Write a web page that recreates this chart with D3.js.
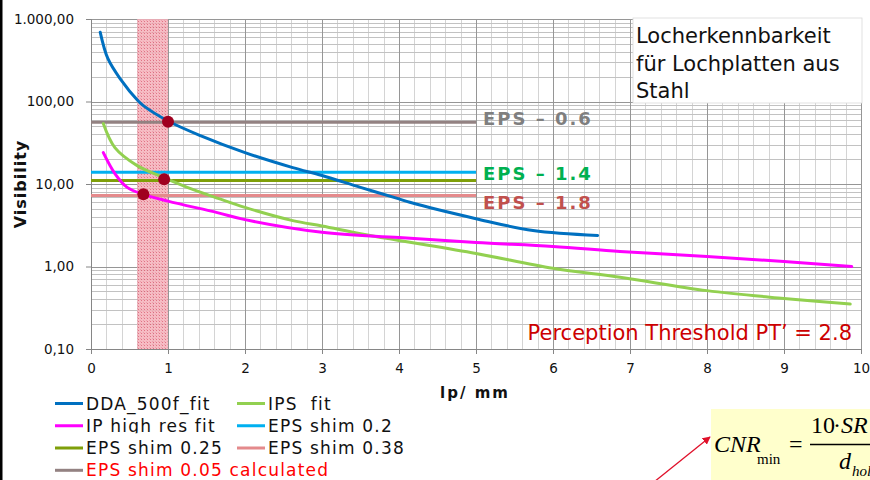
<!DOCTYPE html>
<html><head><meta charset="utf-8">
<script src="https://cdn.jsdelivr.net/npm/d3@7/dist/d3.min.js"></script>
<style>body{margin:0;background:#fff}svg{display:block}</style>
</head><body><svg id="c" width="870" height="480"></svg>
<script>
// ---- data ----
const ddaX = [0.12, 0.22, 0.38, 0.61, 0.68, 1.0, 1.42, 2.0, 2.62, 3.0, 3.5, 4.0, 4.14, 5.0, 5.74, 6.58];
const ddaY = [690, 330, 188, 102, 89, 58, 38.6, 24, 15.8, 12.7, 9.1, 6.6, 6.0, 3.8, 2.73, 2.38];
const ipsX = [0.16, 0.31, 0.6, 0.94, 1.25, 1.65, 2.0, 2.62, 3.0, 3.5, 4.0, 5.0, 6.0, 6.87, 8.0, 9.0, 9.86];
const ipsY = [54, 27.6, 16.7, 12, 9.1, 6.7, 5.2, 3.6, 3.1, 2.5, 2.07, 1.44, 0.95, 0.74, 0.51, 0.41, 0.35];
const ipX = [0.16, 0.31, 0.47, 0.68, 1.0, 1.64, 2.0, 3.0, 4.0, 5.0, 6.0, 6.87, 8.0, 9.0, 9.88];
const ipY = [24, 13.4, 9.1, 7.5, 6.2, 4.5, 3.7, 2.6, 2.24, 1.95, 1.75, 1.52, 1.32, 1.15, 1.0];
const epsNames = ["EPS shim 0.2", "EPS shim 0.25", "EPS shim 0.38", "EPS shim 0.05 calculated"];
const epsValues = [13.9, 11.0, 7.25, 56];
const epsRange = [0, 5];
const markX = [1.0, 0.95, 0.68];
const markY = [57, 11.4, 7.5];
const bandRange = [0.6, 1.0];
const yTickValues = [0.1, 1, 10, 100, 1000];
const yTickLabels = ["0,10", "1,00", "10,00", "100,00", "1.000,00"];
const xTickValues = [0, 1, 2, 3, 4, 5, 6, 7, 8, 9, 10];
const epsLabels = ["EPS – 0.6", "EPS – 1.4", "EPS – 1.8"];
const epsLabelValues = [56, 13.9, 7.25];

// ---- setup ----
const svg = d3.select("#c");
const W = 870, H = 480;
const x = d3.scaleLinear().domain([0, 10]).range([91, 861]);
const y = d3.scaleLog().domain([0.1, 1000]).range([349, 19]);
const FONT = "DejaVu Sans, Verdana, sans-serif";

const defs = svg.append("defs");
const pat = defs.append("pattern").attr("id", "hatch").attr("patternUnits", "userSpaceOnUse")
  .attr("width", 3).attr("height", 3);
pat.append("rect").attr("width", 3).attr("height", 3).attr("fill", "#f4b0ba");
pat.append("rect").attr("width", 1).attr("height", 1).attr("fill", "#dc5a70");
pat.append("rect").attr("x", 2).attr("y", 2).attr("width", 1).attr("height", 1).attr("fill", "#ea8f9c");
defs.append("marker").attr("id", "arr").attr("viewBox", "0 0 10 10").attr("refX", 9).attr("refY", 5)
  .attr("markerWidth", 8).attr("markerHeight", 8).attr("orient", "auto-start-reverse")
  .attr("markerUnits", "userSpaceOnUse")
  .append("path").attr("d", "M0,0L10,5L0,10z").attr("fill", "#e0102a");

// left black border
svg.append("rect").attr("x", 0).attr("y", 0).attr("width", 2.5).attr("height", H).attr("fill", "#000");

// grid
const g = svg.append("g");
const minorX = d3.range(0, 10.001, 0.2).filter(v => Math.abs(v - Math.round(v)) > 1e-6);
g.selectAll(".vx").data(minorX).join("line")
  .attr("x1", d => Math.round(x(d)) + 0.5).attr("x2", d => Math.round(x(d)) + 0.5)
  .attr("y1", y(1000)).attr("y2", y(0.1)).attr("stroke", "#d4d4d4").attr("stroke-width", 1);
const minorY = [];
[0.1, 1, 10, 100].forEach(b => { for (let k = 2; k <= 9; k++) minorY.push(b * k); });
g.selectAll(".hy").data(minorY).join("line")
  .attr("x1", x(0)).attr("x2", x(10))
  .attr("y1", d => Math.round(y(d)) + 0.5).attr("y2", d => Math.round(y(d)) + 0.5)
  .attr("stroke", "#c2c2c2").attr("stroke-width", 1);
g.selectAll(".vX").data(xTickValues.slice(1)).join("line")
  .attr("x1", d => Math.round(x(d)) + 0.5).attr("x2", d => Math.round(x(d)) + 0.5)
  .attr("y1", y(1000)).attr("y2", y(0.1)).attr("stroke", "#969696").attr("stroke-width", 1);
g.selectAll(".hY").data(yTickValues.slice(1)).join("line")
  .attr("x1", x(0)).attr("x2", x(10))
  .attr("y1", d => Math.round(y(d)) + 0.5).attr("y2", d => Math.round(y(d)) + 0.5)
  .attr("stroke", "#969696").attr("stroke-width", 1);

// band
svg.append("rect").attr("x", x(bandRange[0])).attr("y", y(1000))
  .attr("width", x(bandRange[1]) - x(bandRange[0])).attr("height", y(0.1) - y(1000))
  .attr("fill", "url(#hatch)").attr("opacity", 0.85);

// axes
const yAxis = svg.append("g").attr("transform", `translate(${x(0)},0)`)
  .call(d3.axisLeft(y).tickValues(yTickValues).tickFormat((d, i) => yTickLabels[i]).tickSize(5).tickPadding(12));
const xAxis = svg.append("g").attr("transform", `translate(0,${y(0.1)})`)
  .call(d3.axisBottom(x).tickValues(xTickValues).tickFormat(d => d).tickSize(5).tickPadding(9));
[yAxis, xAxis].forEach(a => {
  a.select(".domain").attr("stroke", "#868686");
  a.selectAll(".tick line").attr("stroke", "#868686");
  a.selectAll("text").attr("font-family", FONT).attr("font-size", 13.5).attr("fill", "#111");
});

// lines
const line = d3.line().x(d => x(d[0])).y(d => y(d[1])).curve(d3.curveCatmullRom.alpha(0.5));
const series = [
  {xs: ddaX, ys: ddaY, c: "#0070c0"},
  {xs: ipsX, ys: ipsY, c: "#92d050"},
  {xs: ipX, ys: ipY, c: "#ff00ff"}
];
const epsColors = ["#00b0f0", "#7f9f0a", "#e48a8c", "#938282"];
epsValues.forEach((v, i) => {
  svg.append("line").attr("x1", x(epsRange[0])).attr("x2", x(epsRange[1]))
    .attr("y1", y(v)).attr("y2", y(v)).attr("stroke", epsColors[i]).attr("stroke-width", 3);
});
series.forEach(s => {
  svg.append("path").datum(s.xs.map((v, i) => [v, s.ys[i]])).attr("d", line)
    .attr("fill", "none").attr("stroke", s.c).attr("stroke-width", 3).attr("stroke-linecap", "round")
    .attr("stroke-linejoin", "round");
});
svg.selectAll(".dot").data(markX.map((v, i) => [v, markY[i]])).join("circle")
  .attr("cx", d => x(d[0])).attr("cy", d => y(d[1])).attr("r", 6).attr("fill", "#a00020");

// EPS labels
const epsLabelColors = ["#7f7f7f", "#00b050", "#c0504d"];
const epsLabelDy = [3, 8, 13];
epsLabels.forEach((t, i) => {
  svg.append("text").attr("x", 483).attr("y", y(epsLabelValues[i]) + epsLabelDy[i])
    .attr("font-family", FONT).attr("font-weight", "bold").attr("font-size", 18)
    .attr("letter-spacing", 2).attr("fill", epsLabelColors[i]).text(t);
});

// title box
svg.append("rect").attr("x", 633).attr("y", 18).attr("width", 229).attr("height", 85)
  .attr("fill", "#fff").attr("stroke", "#d9d9d9").attr("stroke-width", 0.8);
["Locherkennbarkeit", "für Lochplatten aus", "Stahl"].forEach((t, i) => {
  svg.append("text").attr("x", 636).attr("y", 43 + i * 27.5).attr("font-family", FONT)
    .attr("font-size", 21).attr("fill", "#111").text(t);
});

// Perception threshold
svg.append("text").attr("x", 852).attr("y", 340).attr("text-anchor", "end")
  .attr("font-family", FONT).attr("font-size", 21).attr("fill", "#cc0000")
  .text("Perception Threshold PT’ = 2.8");

// axis titles
svg.append("text").attr("x", 475).attr("y", 398).attr("text-anchor", "middle")
  .attr("font-family", FONT).attr("font-weight", "bold").attr("font-size", 15)
  .attr("letter-spacing", 2).attr("fill", "#111").text("lp/ mm");
svg.append("text").attr("transform", "translate(26,184) rotate(-90)").attr("text-anchor", "middle")
  .attr("font-family", FONT).attr("font-weight", "bold").attr("font-size", 16)
  .attr("letter-spacing", 1).attr("fill", "#111").text("Visibility");

// legend
const legendNames = ["DDA_500f_fit", "IPS  fit", "IP high res fit", "EPS shim 0.2", "EPS shim 0.25", "EPS shim 0.38", "EPS shim 0.05 calculated"];
const legendColors = ["#0070c0", "#92d050", "#ff00ff", "#00b0f0", "#7f9f0a", "#e48a8c", "#938282"];
const rowBase = [409.5, 431.8, 454, 476.3];
legendNames.forEach((n, i) => {
  const row = Math.floor(i / 2), col = i % 2;
  const lx = col === 0 ? 55 : 237;
  const cid = "clip" + i;
  if (row === 1 || row === 2) {
    defs.append("clipPath").attr("id", cid).append("rect")
      .attr("x", 0).attr("y", rowBase[row] - 30).attr("width", 500).attr("height", 31.5);
  }
  const gg = svg.append("g");
  if (row === 1 || row === 2) gg.attr("clip-path", `url(#${cid})`);
  gg.append("line").attr("x1", lx).attr("x2", lx + 28).attr("y1", rowBase[row] - 6).attr("y2", rowBase[row] - 6)
    .attr("stroke", legendColors[i]).attr("stroke-width", 3);
  gg.append("text").attr("x", lx + 31).attr("y", rowBase[row]).attr("font-family", FONT)
    .attr("font-size", 17).attr("letter-spacing", 1.2)
    .attr("fill", i === 6 ? "#ff0000" : "#111").style("white-space", "pre").text(n);
});

// formula box
svg.append("rect").attr("x", 711).attr("y", 409).attr("width", 170).attr("height", 80).attr("fill", "#ffffcc");
const SERIF = "Liberation Serif, Times New Roman, serif";
const f = svg.append("g").attr("font-family", SERIF).attr("fill", "#000");
f.append("text").attr("x", 714).attr("y", 452).attr("font-size", 24).attr("font-style", "italic").text("CNR");
f.append("text").attr("x", 757).attr("y", 464).attr("font-size", 15).text("min");
f.append("text").attr("x", 789).attr("y", 452).attr("font-size", 24).text("=");
f.append("line").attr("x1", 810).attr("x2", 875).attr("y1", 444.5).attr("y2", 444.5).attr("stroke", "#000").attr("stroke-width", 1.3);
f.append("text").attr("x", 811).attr("y", 433).attr("font-size", 24).text("10");
f.append("text").attr("x", 833).attr("y", 433).attr("font-size", 24).text("·");
f.append("text").attr("x", 841).attr("y", 433).attr("font-size", 24).attr("font-style", "italic").text("SR");
f.append("text").attr("x", 839).attr("y", 469).attr("font-size", 24).attr("font-style", "italic").text("d");
f.append("text").attr("x", 852).attr("y", 476).attr("font-size", 15).attr("font-style", "italic").text("hole");

// arrow
svg.append("line").attr("x1", 654).attr("y1", 482).attr("x2", 710).attr("y2", 437)
  .attr("stroke", "#e0102a").attr("stroke-width", 1.3).attr("marker-end", "url(#arr)");
</script></body></html>
